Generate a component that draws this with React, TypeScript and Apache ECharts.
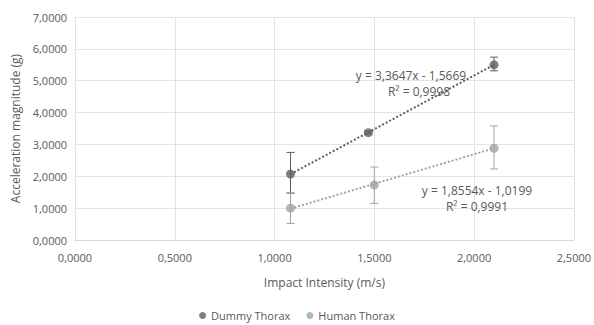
import React, { useEffect, useRef } from "react";
import * as echarts from "echarts";

const xTicks = [0, 0.5, 1.0, 1.5, 2.0, 2.5];
const dummyX = [1.08, 1.47, 2.1];
const dummyY = [2.07, 3.37, 5.5];
const dummyErrLow = [1.47, 3.33, 5.31];
const dummyErrHigh = [2.75, 3.41, 5.74];
const humanX = [1.08, 1.5, 2.1];
const humanY = [1.0, 1.73, 2.88];
const humanErrLow = [0.52, 1.15, 2.23];
const humanErrHigh = [1.48, 2.29, 3.58];
const dummyFit = { slope: 3.3647, intercept: -1.5669, r2: "0,9998" };
const humanFit = { slope: 1.8554, intercept: -1.0199, r2: "0,9991" };

const FONT = "'Open Sans', sans-serif";
const TXT = "#595959";
const DUMMY_C = "#5f5f5f";
const HUMAN_C = "#a3a3a3";

const fmt = (v: number) => v.toFixed(4).replace(".", ",");

function errSeries(xs: number[], lo: number[], hi: number[], color: string) {
  return {
    type: "custom",
    silent: true,
    z: 3,
    data: xs.map((x, i) => [x, lo[i], hi[i]]),
    renderItem: (params: any, api: any) => {
      const x = api.value(0);
      const p1 = api.coord([x, api.value(1)]);
      const p2 = api.coord([x, api.value(2)]);
      const w = 4;
      const style = { stroke: color, lineWidth: 1 };
      return {
        type: "group",
        children: [
          { type: "line", shape: { x1: p1[0], y1: p1[1], x2: p2[0], y2: p2[1] }, style },
          { type: "line", shape: { x1: p1[0] - w, y1: p1[1], x2: p1[0] + w, y2: p1[1] }, style },
          { type: "line", shape: { x1: p2[0] - w, y1: p2[1], x2: p2[0] + w, y2: p2[1] }, style },
        ],
      };
    },
  };
}

function trend(xs: number[], fit: { slope: number; intercept: number }, color: string) {
  const x0 = xs[0];
  const x1 = xs[xs.length - 1];
  return {
    type: "line",
    silent: true,
    symbol: "none",
    z: 2,
    lineStyle: { color, width: 2, type: [2, 2] },
    data: [
      [x0, fit.slope * x0 + fit.intercept],
      [x1, fit.slope * x1 + fit.intercept],
    ],
  };
}

function label(text: string, x: number, y: number) {
  return {
    type: "text",
    x,
    y,
    z: 10,
    style: {
      text,
      fill: TXT,
      font: `12px ${FONT}`,
      align: "center",
      verticalAlign: "middle",
    },
  };
}

export default function App() {
  const ref = useRef<HTMLDivElement>(null);
  useEffect(() => {
    const chart = echarts.init(ref.current!, null, { renderer: "svg" });
    chart.setOption({
      animation: false,
      textStyle: { fontFamily: FONT },
      grid: { left: 75, right: 16, top: 17, bottom: 85 },
      xAxis: {
        type: "value",
        min: xTicks[0],
        max: xTicks[xTicks.length - 1],
        interval: 0.5,
        name: "Impact Intensity (m/s)",
        nameLocation: "middle",
        nameGap: 36,
        nameTextStyle: { color: TXT, fontSize: 12, fontFamily: FONT },
        axisLine: { show: true, lineStyle: { color: "#d9d9d9" } },
        axisTick: { show: false },
        axisLabel: { color: TXT, fontSize: 11, fontFamily: FONT, formatter: fmt, margin: 12 },
        splitLine: { show: true, lineStyle: { color: "#e3e3e3" } },
      },
      yAxis: {
        type: "value",
        min: 0,
        max: 7,
        interval: 1,
        name: "Acceleration magnitude (g)",
        nameLocation: "middle",
        nameGap: 52,
        nameTextStyle: { color: TXT, fontSize: 12, fontFamily: FONT },
        axisLine: { show: false },
        axisTick: { show: false },
        axisLabel: { color: TXT, fontSize: 11, fontFamily: FONT, formatter: fmt, margin: 8 },
        splitLine: { show: true, lineStyle: { color: "#e3e3e3" } },
      },
      legend: {
        top: 305,
        left: "center",
        itemWidth: 7,
        itemHeight: 7,
        itemGap: 16,
        icon: "circle",
        textStyle: { color: TXT, fontSize: 11, fontFamily: FONT },
        data: ["Dummy Thorax", "Human Thorax"],
      },
      series: [
        trend(dummyX, dummyFit, DUMMY_C),
        trend(humanX, humanFit, HUMAN_C),
        errSeries(dummyX, dummyErrLow, dummyErrHigh, DUMMY_C),
        errSeries(humanX, humanErrLow, humanErrHigh, HUMAN_C),
        {
          name: "Dummy Thorax",
          type: "scatter",
          symbolSize: 9,
          z: 4,
          itemStyle: { color: DUMMY_C },
          data: dummyX.map((x, i) => [x, dummyY[i]]),
        },
        {
          name: "Human Thorax",
          type: "scatter",
          symbolSize: 9,
          z: 4,
          itemStyle: { color: HUMAN_C },
          data: humanX.map((x, i) => [x, humanY[i]]),
        },
      ],
      graphic: [
        label(`y = ${fmt(dummyFit.slope)}x - ${fmt(-dummyFit.intercept)}`, 411, 75),
        label(`R² = ${dummyFit.r2}`, 419, 91),
        label(`y = ${fmt(humanFit.slope)}x - ${fmt(-humanFit.intercept)}`, 477, 190),
        label(`R² = ${humanFit.r2}`, 477, 206),
      ],
    });
    return () => chart.dispose();
  }, []);
  return (
    <div
      ref={ref}
      style={{ position: "absolute", left: 0, top: 0, width: 594, height: 325, overflow: "hidden" }}
    />
  );
}
